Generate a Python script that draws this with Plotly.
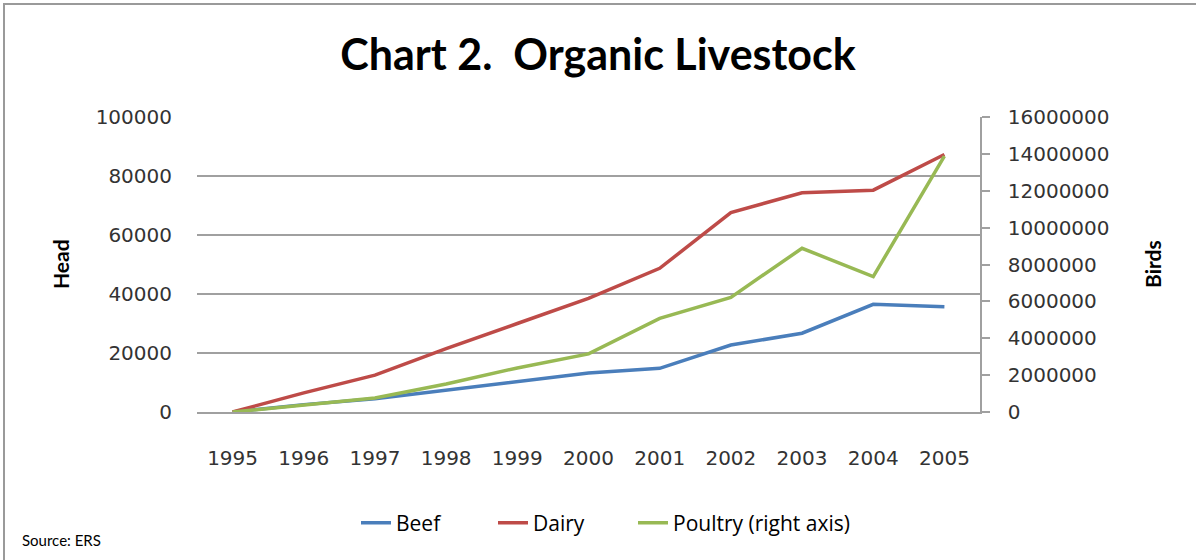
import plotly.graph_objects as go

years = ["1995", "1996", "1997", "1998", "1999", "2000", "2001", "2002", "2003", "2004", "2005"]
beef = [0, 2500, 4500, 7500, 10300, 13200, 14800, 22700, 26700, 36500, 35700]
dairy = [0, 6500, 12500, 21500, 30000, 38500, 48700, 67600, 74300, 75200, 87300]
poultry = [0, 380000, 760000, 1520000, 2390000, 3150000, 5080000, 6220000, 8880000, 7340000, 13880000]

left_ticks = [0, 20000, 40000, 60000, 80000, 100000]
right_ticks = [0, 2000000, 4000000, 6000000, 8000000, 10000000, 12000000, 14000000, 16000000]

W, H = 1196, 560
L, R, T, B = 197, 216, 117, 148
pw, ph = W - L - R, H - T - B


def px_x(x):
    return (x - L) / pw


def px_y(y):
    return (H - B - y) / ph


fig = go.Figure()
fig.add_trace(go.Scatter(x=years, y=beef, name="Beef", mode="lines",
                         line=dict(color="#4a7ebb", width=3.5), legend="legend"))
fig.add_trace(go.Scatter(x=years, y=dairy, name="Dairy", mode="lines",
                         line=dict(color="#be4b48", width=3.5), legend="legend2"))
fig.add_trace(go.Scatter(x=years, y=poultry, name="Poultry (right axis)", mode="lines",
                         line=dict(color="#98b954", width=3.5), yaxis="y2", legend="legend3"))

tickfont = dict(family="DejaVu Sans", size=20, color="#333333")
legfont = dict(family="Open Sans", size=21, color="#000")


def leg(xpx):
    return dict(orientation="h", x=px_x(xpx), xanchor="left", y=px_y(523), yanchor="middle",
                font=legfont, bgcolor="rgba(0,0,0,0)")


fig.update_layout(
    width=W, height=H,
    margin=dict(l=L, r=R, t=T, b=B),
    paper_bgcolor="white", plot_bgcolor="white",
    title=dict(text="<b>Chart 2.  Organic Livestock</b>", x=0.5, xanchor="center",
               y=1 - 55 / H, yanchor="middle",
               font=dict(family="Lato", size=43, color="#000000")),
    xaxis=dict(type="category", range=[-0.5, 10.5], showgrid=False,
               showline=True, linecolor="#a0a0a0", linewidth=1.5,
               ticks="", tickfont=tickfont, ticklabelstandoff=27),
    yaxis=dict(range=[0, 100000], tickvals=left_ticks, ticktext=[str(v) for v in left_ticks],
               showgrid=True, gridcolor="#a0a0a0", gridwidth=1.5, zeroline=False,
               showline=False, tickfont=tickfont, ticklabelstandoff=24),
    yaxis2=dict(range=[0, 16000000], tickvals=right_ticks, ticktext=[str(v) for v in right_ticks],
                overlaying="y", side="right", showgrid=False, zeroline=False,
                showline=True, linecolor="#a0a0a0", linewidth=1.5,
                ticks="outside", ticklen=8, tickcolor="#a0a0a0", tickwidth=1.5,
                tickfont=tickfont, ticklabelstandoff=14),
    legend=leg(356),
    legend2=leg(493),
    legend3=leg(633),
    showlegend=True,
)

fig.add_annotation(text="<b>Head</b>", xref="paper", yref="paper", x=px_x(60), y=px_y(264),
                   textangle=-90, showarrow=False, xanchor="center", yanchor="middle",
                   font=dict(family="Lato", size=21, color="#000"))
fig.add_annotation(text="<b>Birds</b>", xref="paper", yref="paper", x=px_x(1152), y=px_y(264),
                   textangle=-90, showarrow=False, xanchor="center", yanchor="middle",
                   font=dict(family="Lato", size=21, color="#000"))
fig.add_annotation(text="Source: ERS", xref="paper", yref="paper",
                   x=px_x(20), y=px_y(540), xanchor="left", yanchor="middle",
                   showarrow=False, font=dict(family="Lato", size=15, color="#000"))

# outer chart border
fig.add_shape(type="rect", xref="paper", yref="paper",
              x0=px_x(4), x1=px_x(W + 10), y0=px_y(H + 10), y1=px_y(4),
              line=dict(color="#9a9a9a", width=2), layer="below")

fig.write_html("out.html", config={"displayModeBar": False},
               post_script="document.body.style.margin='0';document.body.style.overflow='hidden';")
